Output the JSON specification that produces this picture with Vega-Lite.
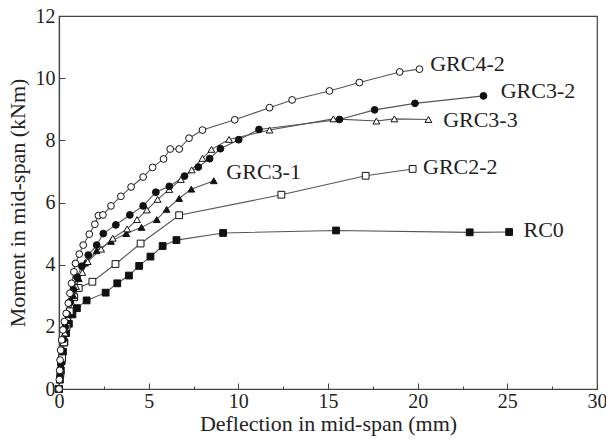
{
  "$schema": "https://vega.github.io/schema/vega-lite/v6.json",
  "width": 538,
  "height": 373,
  "autosize": "none",
  "padding": {"left": 59, "top": 16, "right": 9, "bottom": 56},
  "background": "white",
  "config": {
    "view": {"stroke": "#444", "strokeWidth": 1.2},
    "font": "Liberation Serif"
  },
  "datasets": {
    "curves": [
      {"s": "RC0", "x": 0, "y": 0}, {"s": "RC0", "x": 0.05, "y": 0.3}, {"s": "RC0", "x": 0.1, "y": 0.6}, {"s": "RC0", "x": 0.15, "y": 0.9}, {"s": "RC0", "x": 0.22, "y": 1.2}, {"s": "RC0", "x": 0.3, "y": 1.5}, {"s": "RC0", "x": 0.4, "y": 1.8}, {"s": "RC0", "x": 0.55, "y": 2.1}, {"s": "RC0", "x": 0.75, "y": 2.4}, {"s": "RC0", "x": 1.0, "y": 2.6}, {"s": "RC0", "x": 1.54, "y": 2.85}, {"s": "RC0", "x": 2.6, "y": 3.1}, {"s": "RC0", "x": 3.25, "y": 3.4}, {"s": "RC0", "x": 3.9, "y": 3.65}, {"s": "RC0", "x": 4.47, "y": 3.96}, {"s": "RC0", "x": 5.1, "y": 4.26}, {"s": "RC0", "x": 5.78, "y": 4.6}, {"s": "RC0", "x": 6.55, "y": 4.79}, {"s": "RC0", "x": 9.15, "y": 5.02}, {"s": "RC0", "x": 15.45, "y": 5.1}, {"s": "RC0", "x": 22.9, "y": 5.04}, {"s": "RC0", "x": 25.1, "y": 5.05},

      {"s": "GRC2-2", "x": 0, "y": 0}, {"s": "GRC2-2", "x": 0.08, "y": 0.5}, {"s": "GRC2-2", "x": 0.17, "y": 1.0}, {"s": "GRC2-2", "x": 0.28, "y": 1.5}, {"s": "GRC2-2", "x": 0.42, "y": 2.0}, {"s": "GRC2-2", "x": 0.6, "y": 2.5}, {"s": "GRC2-2", "x": 0.85, "y": 2.95}, {"s": "GRC2-2", "x": 1.1, "y": 3.25}, {"s": "GRC2-2", "x": 1.86, "y": 3.45}, {"s": "GRC2-2", "x": 3.15, "y": 4.02}, {"s": "GRC2-2", "x": 4.55, "y": 4.68}, {"s": "GRC2-2", "x": 6.7, "y": 5.59}, {"s": "GRC2-2", "x": 12.4, "y": 6.25}, {"s": "GRC2-2", "x": 17.1, "y": 6.86}, {"s": "GRC2-2", "x": 19.72, "y": 7.08},

      {"s": "GRC3-1", "x": 0, "y": 0}, {"s": "GRC3-1", "x": 0.1, "y": 0.6}, {"s": "GRC3-1", "x": 0.22, "y": 1.2}, {"s": "GRC3-1", "x": 0.36, "y": 1.8}, {"s": "GRC3-1", "x": 0.55, "y": 2.4}, {"s": "GRC3-1", "x": 0.8, "y": 3.0}, {"s": "GRC3-1", "x": 1.1, "y": 3.55}, {"s": "GRC3-1", "x": 1.45, "y": 4.05}, {"s": "GRC3-1", "x": 2.1, "y": 4.45}, {"s": "GRC3-1", "x": 2.9, "y": 4.75}, {"s": "GRC3-1", "x": 3.75, "y": 5.0}, {"s": "GRC3-1", "x": 4.6, "y": 5.2}, {"s": "GRC3-1", "x": 5.45, "y": 5.45}, {"s": "GRC3-1", "x": 6.0, "y": 5.78}, {"s": "GRC3-1", "x": 6.7, "y": 6.13}, {"s": "GRC3-1", "x": 7.38, "y": 6.43}, {"s": "GRC3-1", "x": 8.63, "y": 6.7},

      {"s": "GRC3-3", "x": 0, "y": 0}, {"s": "GRC3-3", "x": 0.1, "y": 0.6}, {"s": "GRC3-3", "x": 0.2, "y": 1.2}, {"s": "GRC3-3", "x": 0.33, "y": 1.8}, {"s": "GRC3-3", "x": 0.48, "y": 2.3}, {"s": "GRC3-3", "x": 0.68, "y": 2.8}, {"s": "GRC3-3", "x": 0.95, "y": 3.3}, {"s": "GRC3-3", "x": 1.3, "y": 3.75}, {"s": "GRC3-3", "x": 1.6, "y": 4.1}, {"s": "GRC3-3", "x": 2.35, "y": 4.5}, {"s": "GRC3-3", "x": 3.0, "y": 4.85}, {"s": "GRC3-3", "x": 3.8, "y": 5.15}, {"s": "GRC3-3", "x": 4.35, "y": 5.45}, {"s": "GRC3-3", "x": 4.9, "y": 5.76}, {"s": "GRC3-3", "x": 5.5, "y": 6.1}, {"s": "GRC3-3", "x": 6.15, "y": 6.42}, {"s": "GRC3-3", "x": 6.8, "y": 6.74}, {"s": "GRC3-3", "x": 7.4, "y": 7.05}, {"s": "GRC3-3", "x": 8.0, "y": 7.42}, {"s": "GRC3-3", "x": 8.5, "y": 7.71}, {"s": "GRC3-3", "x": 9.48, "y": 8.03}, {"s": "GRC3-3", "x": 11.74, "y": 8.33}, {"s": "GRC3-3", "x": 15.3, "y": 8.69}, {"s": "GRC3-3", "x": 17.7, "y": 8.62}, {"s": "GRC3-3", "x": 18.7, "y": 8.69}, {"s": "GRC3-3", "x": 20.6, "y": 8.67},

      {"s": "GRC3-2", "x": 0, "y": 0}, {"s": "GRC3-2", "x": 0.05, "y": 0.4}, {"s": "GRC3-2", "x": 0.1, "y": 0.8}, {"s": "GRC3-2", "x": 0.17, "y": 1.2}, {"s": "GRC3-2", "x": 0.25, "y": 1.6}, {"s": "GRC3-2", "x": 0.35, "y": 2.0}, {"s": "GRC3-2", "x": 0.47, "y": 2.4}, {"s": "GRC3-2", "x": 0.62, "y": 2.8}, {"s": "GRC3-2", "x": 0.8, "y": 3.2}, {"s": "GRC3-2", "x": 1.0, "y": 3.6}, {"s": "GRC3-2", "x": 1.27, "y": 3.95}, {"s": "GRC3-2", "x": 1.63, "y": 4.31}, {"s": "GRC3-2", "x": 2.1, "y": 4.63}, {"s": "GRC3-2", "x": 2.47, "y": 5.0}, {"s": "GRC3-2", "x": 3.17, "y": 5.28}, {"s": "GRC3-2", "x": 3.95, "y": 5.6}, {"s": "GRC3-2", "x": 4.69, "y": 5.89}, {"s": "GRC3-2", "x": 5.4, "y": 6.33}, {"s": "GRC3-2", "x": 6.15, "y": 6.52}, {"s": "GRC3-2", "x": 7.0, "y": 6.85}, {"s": "GRC3-2", "x": 7.77, "y": 7.14}, {"s": "GRC3-2", "x": 8.4, "y": 7.41}, {"s": "GRC3-2", "x": 9.0, "y": 7.73}, {"s": "GRC3-2", "x": 10.02, "y": 8.02}, {"s": "GRC3-2", "x": 11.15, "y": 8.35}, {"s": "GRC3-2", "x": 15.64, "y": 8.67}, {"s": "GRC3-2", "x": 17.6, "y": 8.98}, {"s": "GRC3-2", "x": 19.85, "y": 9.19}, {"s": "GRC3-2", "x": 23.67, "y": 9.43},

      {"s": "GRC4-2", "x": 0, "y": 0}, {"s": "GRC4-2", "x": 0.02, "y": 0.3}, {"s": "GRC4-2", "x": 0.04, "y": 0.6}, {"s": "GRC4-2", "x": 0.06, "y": 0.93}, {"s": "GRC4-2", "x": 0.09, "y": 1.25}, {"s": "GRC4-2", "x": 0.15, "y": 1.58}, {"s": "GRC4-2", "x": 0.22, "y": 1.9}, {"s": "GRC4-2", "x": 0.3, "y": 2.17}, {"s": "GRC4-2", "x": 0.4, "y": 2.43}, {"s": "GRC4-2", "x": 0.52, "y": 2.76}, {"s": "GRC4-2", "x": 0.61, "y": 3.08}, {"s": "GRC4-2", "x": 0.7, "y": 3.4}, {"s": "GRC4-2", "x": 0.83, "y": 3.77}, {"s": "GRC4-2", "x": 0.92, "y": 4.04}, {"s": "GRC4-2", "x": 1.13, "y": 4.34}, {"s": "GRC4-2", "x": 1.35, "y": 4.63}, {"s": "GRC4-2", "x": 1.69, "y": 4.98}, {"s": "GRC4-2", "x": 2.0, "y": 5.3}, {"s": "GRC4-2", "x": 2.2, "y": 5.58}, {"s": "GRC4-2", "x": 2.45, "y": 5.6}, {"s": "GRC4-2", "x": 2.9, "y": 5.89}, {"s": "GRC4-2", "x": 3.45, "y": 6.2}, {"s": "GRC4-2", "x": 4.02, "y": 6.5}, {"s": "GRC4-2", "x": 4.69, "y": 6.82}, {"s": "GRC4-2", "x": 5.22, "y": 7.13}, {"s": "GRC4-2", "x": 5.83, "y": 7.4}, {"s": "GRC4-2", "x": 6.2, "y": 7.72}, {"s": "GRC4-2", "x": 6.7, "y": 7.72}, {"s": "GRC4-2", "x": 7.25, "y": 8.07}, {"s": "GRC4-2", "x": 8.0, "y": 8.33}, {"s": "GRC4-2", "x": 9.8, "y": 8.66}, {"s": "GRC4-2", "x": 11.74, "y": 9.05}, {"s": "GRC4-2", "x": 13.0, "y": 9.3}, {"s": "GRC4-2", "x": 15.08, "y": 9.59}, {"s": "GRC4-2", "x": 16.75, "y": 9.86}, {"s": "GRC4-2", "x": 19.0, "y": 10.2}, {"s": "GRC4-2", "x": 20.1, "y": 10.29}
    ],
    "labels": [
      {"t": "GRC4-2", "x": 20.7, "y": 10.47},
      {"t": "GRC3-2", "x": 24.63, "y": 9.6},
      {"t": "GRC3-3", "x": 21.42, "y": 8.65},
      {"t": "GRC3-1", "x": 9.33, "y": 6.99},
      {"t": "GRC2-2", "x": 20.3, "y": 7.15},
      {"t": "RC0", "x": 25.9, "y": 5.1}
    ]
  },
  "layer": [
    {
      "data": {"name": "curves"},
      "mark": {"type": "line", "color": "#555", "strokeWidth": 1.1},
      "encoding": {
        "x": {
          "field": "x", "type": "quantitative",
          "scale": {"domain": [0, 30], "nice": false},
          "axis": {
            "title": "Deflection in mid-span (mm)",
            "titleFont": "Liberation Serif", "titleFontSize": 22, "titleFontWeight": "normal", "titleColor": "#222",
            "titlePadding": 2,
            "values": [0, 2.5, 5, 7.5, 10, 12.5, 15, 17.5, 20, 22.5, 25, 27.5, 30],
            "labelExpr": "datum.value % 5 === 0 ? datum.label : ''",
            "labelFont": "Liberation Serif", "labelFontSize": 20, "labelColor": "#222",
            "labelPadding": 8,
            "labelFlush": false,
            "tickSize": {"condition": {"test": "datum.value % 5 === 0", "value": -6}, "value": -3},
            "tickColor": "#444",
            "domainColor": "#444", "domainWidth": 1.2,
            "grid": false
          }
        },
        "y": {
          "field": "y", "type": "quantitative",
          "scale": {"domain": [0, 12], "nice": false},
          "axis": {
            "title": "Moment in mid-span (kNm)",
            "titleFont": "Liberation Serif", "titleFontSize": 22, "titleFontWeight": "normal", "titleColor": "#222",
            "titlePadding": 6,
            "values": [0, 1, 2, 3, 4, 5, 6, 7, 8, 9, 10, 11, 12],
            "labelExpr": "datum.value % 2 === 0 ? datum.label : ''",
            "labelFont": "Liberation Serif", "labelFontSize": 20, "labelColor": "#222",
            "labelPadding": 10,
            "labelFlush": false,
            "tickSize": {"condition": {"test": "datum.value % 2 === 0", "value": -6}, "value": -3},
            "tickColor": "#444",
            "domainColor": "#444", "domainWidth": 1.2,
            "grid": false
          }
        },
        "detail": {"field": "s", "type": "nominal"}
      }
    },
    {
      "data": {"name": "curves"},
      "mark": {"type": "point", "filled": false, "stroke": "#111", "strokeWidth": 1, "opacity": 1},
      "encoding": {
        "x": {"field": "x", "type": "quantitative"},
        "y": {"field": "y", "type": "quantitative"},
        "shape": {
          "field": "s", "type": "nominal", "legend": null,
          "scale": {
            "domain": ["RC0", "GRC2-2", "GRC3-1", "GRC3-3", "GRC3-2", "GRC4-2"],
            "range": ["square", "square", "triangle-up", "triangle-up", "circle", "circle"]
          }
        },
        "fill": {
          "field": "s", "type": "nominal", "legend": null,
          "scale": {
            "domain": ["RC0", "GRC2-2", "GRC3-1", "GRC3-3", "GRC3-2", "GRC4-2"],
            "range": ["#111", "white", "#111", "white", "#111", "white"]
          }
        },
        "size": {
          "field": "s", "type": "nominal", "legend": null,
          "scale": {
            "domain": ["RC0", "GRC2-2", "GRC3-1", "GRC3-3", "GRC3-2", "GRC4-2"],
            "range": [46, 46, 65, 65, 58, 58]
          }
        }
      }
    },
    {
      "data": {"name": "labels"},
      "mark": {"type": "text", "align": "left", "baseline": "middle", "font": "Liberation Serif", "fontSize": 22, "color": "#222"},
      "encoding": {
        "x": {"field": "x", "type": "quantitative"},
        "y": {"field": "y", "type": "quantitative"},
        "text": {"field": "t"}
      }
    }
  ]
}
